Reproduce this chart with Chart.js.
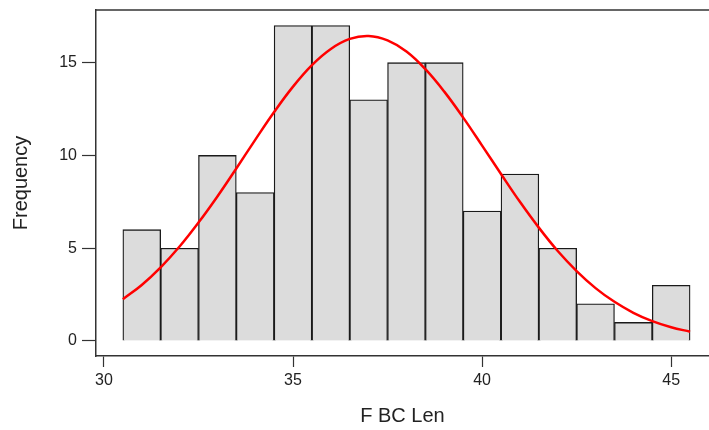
<!DOCTYPE html>
<html>
<head>
<meta charset="utf-8">
<script src="https://cdn.jsdelivr.net/npm/chart.js@4/dist/chart.umd.min.js"></script>
<style>
  html, body { margin: 0; padding: 0; background: #ffffff; }
  canvas { display: block; }
</style>
</head>
<body>
<canvas id="c" width="709" height="430"></canvas>
<script>
// Histogram bins (centres of 1-unit-wide bins) and frequencies
const binCenters = [31, 32, 33, 34, 35, 36, 37, 38, 39, 40, 41, 42, 43, 44, 45];
const counts     = [6, 5, 10, 8, 17, 17, 13, 15, 15, 7, 9, 5, 2, 1, 3];

// Fitted density curve
const curveX = [30.5, 31, 31.5, 32, 32.5, 33, 33.5, 34, 34.5, 35, 35.5, 36, 36.5, 37, 37.5,
                38, 38.5, 39, 39.5, 40, 40.5, 41, 41.5, 42, 42.5, 43, 43.5, 44, 44.5, 45, 45.5];
const curveY = [2.25, 3.02, 3.97, 5.09, 6.38, 7.79, 9.30, 10.84, 12.34, 13.71, 14.87, 15.74, 16.28, 16.44, 16.20,
                15.60, 14.65, 13.44, 12.04, 10.53, 9.00, 7.50, 6.11, 4.85, 3.77, 2.85, 2.11, 1.52, 1.07, 0.74, 0.50];

const xTicks = [30, 35, 40, 45];
const yTicks = [0, 5, 10, 15];
const xTitle = "F BC Len";
const yTitle = "Frequency";

const FONT = "'Liberation Sans', Arial, Helvetica, sans-serif";
const AXIS_COLOR = "#333333";

const boxPlugin = {
  id: 'boxTop',
  afterDraw(chart) {
    const { ctx, chartArea } = chart;
    ctx.save();
    ctx.strokeStyle = AXIS_COLOR;
    ctx.lineWidth = 1.5;
    ctx.beginPath();
    ctx.moveTo(chartArea.left, chartArea.top);
    ctx.lineTo(chartArea.right + 2, chartArea.top);
    ctx.stroke();
    ctx.restore();
  }
};

new Chart(document.getElementById('c'), {
  data: {
    datasets: [
      {
        type: 'line',
        order: 0,
        data: curveX.map((x, i) => ({ x: x, y: curveY[i] })),
        borderColor: '#ff0000',
        borderWidth: 2.5,
        pointRadius: 0,
        tension: 0.4,
        fill: false
      },
      {
        type: 'bar',
        order: 1,
        data: binCenters.map((x, i) => ({ x: x, y: counts[i] })),
        backgroundColor: '#dcdcdc',
        borderColor: '#1a1a1a',
        borderWidth: 1.3,
        barPercentage: 1.0,
        categoryPercentage: 1.0
      }
    ]
  },
  options: {
    responsive: false,
    animation: false,
    devicePixelRatio: 1,
    layout: { padding: { top: 10, right: 0, left: 0, bottom: 0 } },
    plugins: { legend: { display: false }, tooltip: { enabled: false } },
    scales: {
      x: {
        type: 'linear',
        offset: false,
        min: 29.79,
        max: 46.0,
        afterBuildTicks: (s) => { s.ticks = xTicks.map(v => ({ value: v })); },
        afterFit: (s) => { s.height = 74; s.paddingLeft = 0; s.paddingRight = 0; },
        grid: { display: true, offset: false, drawOnChartArea: false, drawTicks: true, tickLength: 11, tickColor: AXIS_COLOR, tickWidth: 1.2 },
        border: { display: true, color: AXIS_COLOR, width: 1.5 },
        ticks: { color: '#222', font: { family: FONT, size: 16 }, padding: 4, maxRotation: 0, autoSkip: false },
        title: { display: true, text: xTitle, color: '#222', font: { family: FONT, size: 20 }, padding: { top: 0, bottom: 2 } }
      },
      y: {
        type: 'linear',
        min: -0.81,
        max: 17.84,
        afterBuildTicks: (s) => { s.ticks = yTicks.map(v => ({ value: v })); },
        afterFit: (s) => { s.width = 96; s.paddingTop = 0; s.paddingBottom = 0; },
        grid: { display: true, drawOnChartArea: false, drawTicks: true, tickLength: 14, tickColor: AXIS_COLOR, tickWidth: 1.2 },
        border: { display: true, color: AXIS_COLOR, width: 1.5 },
        ticks: { color: '#222', font: { family: FONT, size: 16 }, padding: 5, autoSkip: false },
        title: { display: true, text: yTitle, color: '#222', font: { family: FONT, size: 20 }, padding: { top: 9, bottom: 0 } }
      }
    }
  },
  plugins: [boxPlugin]
});
</script>
</body>
</html>
